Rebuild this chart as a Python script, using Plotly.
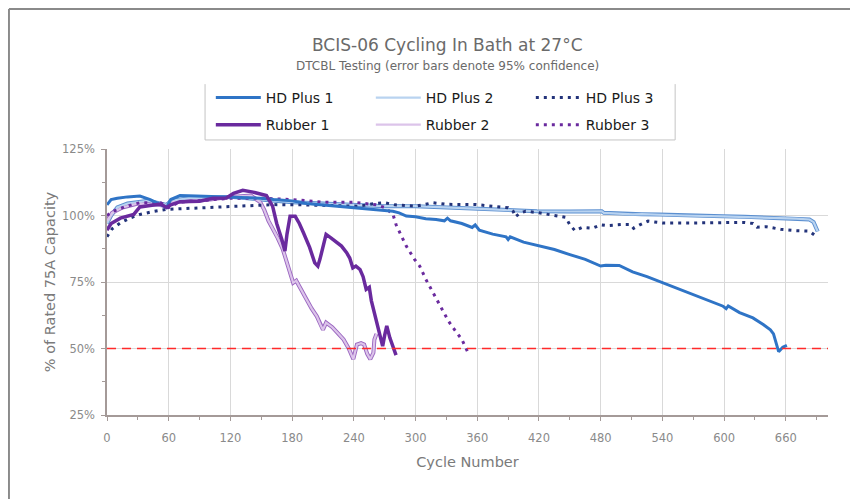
import plotly.graph_objects as go

# ---------------- data ----------------
hd1_cycles = [0, 4, 10, 20, 32, 42, 50, 58, 62, 71, 87, 110, 129, 150, 162, 180, 194, 210, 226, 240,
              259, 270, 278, 284, 291, 300, 310, 320, 328, 331, 334, 345, 355, 358, 362, 375, 388, 390,
              392, 405, 420, 435, 450, 465, 480, 485, 498, 505, 511, 525, 540, 555, 570, 585, 599, 602,
              604, 615, 628, 638, 645, 648, 651, 653, 657, 661]
hd1_values = [104, 106, 106.5, 107, 107.3, 106, 104.5, 103, 106, 107.5, 107.3, 107, 106.6, 106.5, 106,
              105.5, 104.5, 104, 103.5, 103, 102.3, 102, 101.6, 101, 99.8, 99.5, 98.8, 98.5, 98, 99, 98,
              97, 95.5, 96.5, 94.5, 93, 92, 91, 92, 90, 88.5, 87.2, 85.3, 83.5, 81, 81.3, 81.2, 80, 78.8,
              77, 74.8, 72.5, 70.3, 68, 65.9, 65, 66, 63.5, 61.5, 59, 57, 55.5, 52, 48.8, 50.5, 51.2]

hd2_cycles = [0, 4, 10, 20, 40, 58, 62, 80, 120, 150, 180, 210, 240, 270, 300, 330, 360, 390, 418, 450,
              481, 483, 511, 520, 537, 560, 599, 620, 657, 670, 683, 687, 691]
hd2_values = [97, 100, 103, 104.5, 105.5, 104, 105.5, 106.5, 107, 106, 105, 104.5, 104, 103.5, 103.5,
              103, 102.5, 102, 101.6, 101.5, 101.6, 101, 100.4, 100.5, 100.4, 100, 99.7, 99.5, 99.1,
              98.8, 98.5, 97.5, 94]

hd3_cycles = [0, 5, 13, 22, 32, 45, 58, 70, 87, 120, 162, 190, 226, 245, 260, 270, 280, 300, 317, 330,
              359, 375, 390, 395, 397, 402, 407, 420, 435, 446, 450, 455, 462, 472, 480, 486, 500, 509,
              512, 518, 526, 540, 570, 600, 620, 628, 632, 641, 655, 670, 683, 689]
hd3_values = [92, 95, 97.2, 99, 100.4, 101.5, 102.3, 102.5, 102.9, 103.5, 104.1, 104, 103.5, 103.5,
              104.5, 104.8, 104, 103.5, 104.8, 104.2, 104.1, 103.5, 102.9, 101.5, 99.5, 101, 101.6, 101,
              100, 99.3, 96.5, 94.3, 95.5, 95.2, 96.5, 96.2, 96.6, 96.6, 95.2, 96.5, 97.9, 97.2, 97.2,
              97.2, 97.4, 97, 95.6, 95.8, 94.8, 94.3, 94.1, 92.3]

r1_cycles = [0, 4, 13, 26, 32, 45, 52, 58, 62, 71, 90, 103, 116, 123, 132, 142, 150, 155, 161, 165, 170,
             173, 175, 178, 183, 187, 191, 197, 202, 205, 207, 213, 218, 222, 228, 233, 236, 239, 242,
             246, 249, 252, 255, 257, 262, 265, 268, 270, 272, 275, 278, 281]
r1_values = [94.5, 97, 99, 100.4, 103.2, 104, 104.3, 103, 104, 105.2, 105.4, 106.5, 106.6, 108.3, 109.5,
             108.8, 108, 107.5, 103.5, 97, 91, 86.6, 93, 99.7, 99.7, 97, 93.5, 88, 82.2, 81, 83.5, 92.9,
             91.5, 90.3, 88.5, 86, 84, 80.3, 81, 79.7, 77, 72.2, 73, 68, 59.7, 56, 50.9, 55, 58.5, 54,
             50.5, 47.5]

r2_cycles = [0, 5, 15, 30, 50, 58, 62, 80, 100, 120, 140, 149, 153, 157, 162, 166, 171, 176, 181, 184,
             186, 190, 194, 199, 204, 208, 210, 213, 216, 219, 225, 230, 235, 239.5, 243, 247, 250, 253,
             256, 259, 260, 262]
r2_values = [98, 101, 103, 104.5, 104, 103.5, 105, 105.5, 106, 107, 107.5, 105, 102, 98, 94.7, 91.5,
             87.2, 81, 74.7, 75.5, 74, 71, 68.4, 65, 62.1, 58.5, 57.1, 59.7, 58.8, 58, 55.5, 53.4, 50,
             46, 51.5, 52, 51.5, 48, 46, 48.4, 53.4, 55.5]

r3_cycles = [0, 6, 19, 32, 52, 60, 70, 90, 120, 150, 180, 210, 240, 262, 270, 278, 281, 286, 291, 299,
             304, 310, 317, 323, 329, 332, 338, 345, 351]
r3_values = [100, 101.6, 103.5, 104.8, 104.8, 103, 105, 105.5, 106.5, 106.5, 106, 105, 105, 104, 103,
             100.5, 96.6, 92.5, 88.5, 83.5, 81, 76, 71, 66.5, 62, 60.3, 57, 53.4, 48.4]

x_ticks = [0, 60, 120, 180, 240, 300, 360, 420, 480, 540, 600, 660]
y_ticks = [25, 50, 75, 100, 125]
y_tick_text = ["25%", "50%", "75%", "100%", "125%"]
limit_value = 50

# ---------------- figure ----------------
fig = go.Figure()

# outlines for the "double" lines (drawn under the light fill lines)
fig.add_trace(go.Scatter(x=hd2_cycles, y=hd2_values, mode="lines", showlegend=False, hoverinfo="skip",
                         line=dict(color="#5b8fd0", width=4)))
fig.add_trace(go.Scatter(x=r2_cycles, y=r2_values, mode="lines", showlegend=False, hoverinfo="skip",
                         line=dict(color="#9a66c0", width=4)))

fig.add_trace(go.Scatter(x=hd2_cycles, y=hd2_values, mode="lines", name="HD Plus 2", legend="legend",
                         legendrank=2, line=dict(color="#b9d3f0", width=2.2)))
fig.add_trace(go.Scatter(x=r2_cycles, y=r2_values, mode="lines", name="Rubber 2", legend="legend2",
                         legendrank=2, line=dict(color="#dcc4ea", width=2.2)))
fig.add_trace(go.Scatter(x=hd3_cycles, y=hd3_values, mode="lines", name="HD Plus 3", legend="legend",
                         legendrank=3, line=dict(color="#23337a", width=3, dash="3px,5px")))
fig.add_trace(go.Scatter(x=r3_cycles, y=r3_values, mode="lines", name="Rubber 3", legend="legend2",
                         legendrank=3, line=dict(color="#6a2a9e", width=3, dash="3px,5px")))
fig.add_trace(go.Scatter(x=hd1_cycles, y=hd1_values, mode="lines", name="HD Plus 1", legend="legend",
                         legendrank=1, line=dict(color="#2f74c6", width=3)))
fig.add_trace(go.Scatter(x=r1_cycles, y=r1_values, mode="lines", name="Rubber 1", legend="legend2",
                         legendrank=1, line=dict(color="#6a2a9e", width=3.5)))

fig.add_hline(y=limit_value, line=dict(color="#ff2a2a", width=1.6, dash="9px,6px"))

axis_col = "#a49a98"
grid_col = "#d9d9d9"
tick_font = dict(family="DejaVu Sans", size=11.5, color="#8a8a8a")
title_font = dict(family="DejaVu Sans", size=14.5, color="#7a7a7a")

fig.update_xaxes(range=[0, 701], tickvals=x_ticks, showgrid=True, gridcolor=grid_col, gridwidth=1,
                 showline=True, linecolor=axis_col, linewidth=1.5, ticks="outside", ticklen=4,
                 tickcolor=axis_col, tickfont=tick_font, zeroline=False, ticklabelstandoff=7,
                 minor=dict(dtick=30, tick0=0, ticks="outside", ticklen=3, tickcolor=axis_col, showgrid=False),
                 title=dict(text="Cycle Number", font=title_font, standoff=13))
fig.update_yaxes(range=[25, 125], tickvals=y_ticks, ticktext=y_tick_text, showgrid=True, gridcolor=grid_col,
                 gridwidth=1, showline=True, linecolor=axis_col, linewidth=1.5, ticks="outside", ticklen=4,
                 tickcolor=axis_col, tickfont=tick_font, zeroline=False, ticklabelstandoff=4,
                 minor=dict(dtick=12.5, tick0=25, ticks="outside", ticklen=3, tickcolor=axis_col, showgrid=False),
                 title=dict(text="% of Rated 75A Capacity", font=title_font, standoff=3))

legend_common = dict(orientation="h", xanchor="left", yanchor="middle", bgcolor="rgba(0,0,0,0)",
                     borderwidth=0, itemwidth=45, entrywidth=100, tracegroupgap=0,
                     font=dict(family="DejaVu Sans", size=14, color="#1a1a1a"))

# legend box outline (paper coordinates)
box_x0, box_x1, box_y0, box_y1 = 0.136, 0.788, 1.034, 1.244
box_line = dict(color="#c4c4c4", width=1)
frame_line = dict(color="#8a8a8a", width=2)

# page has an 8px body margin: figure is sized/placed to compensate
fig.update_layout(
    width=850, height=491,
    margin=dict(l=99, r=30, t=141, b=84),
    paper_bgcolor="white", plot_bgcolor="white",
    showlegend=True,
    legend=dict(x=0.144, y=1.192, traceorder="normal", **legend_common),
    legend2=dict(x=0.144, y=1.090, traceorder="normal", **legend_common),
    annotations=[
        dict(text="BCIS-06 Cycling In Bath at 27°C", xref="paper", yref="paper", x=0.4716, y=1.391,
             showarrow=False, font=dict(family="DejaVu Sans", size=17, color="#6a6a6a"),
             xanchor="center", yanchor="middle"),
        dict(text="DTCBL Testing (error bars denote 95% confidence)", xref="paper", yref="paper",
             x=0.4716, y=1.312, showarrow=False,
             font=dict(family="DejaVu Sans", size=12, color="#6a6a6a"),
             xanchor="center", yanchor="middle"),
    ],
    shapes=[
        dict(type="line", xref="paper", yref="paper", x0=box_x0, x1=box_x1, y0=box_y1, y1=box_y1, line=box_line),
        dict(type="line", xref="paper", yref="paper", x0=box_x0, x1=box_x1, y0=box_y0, y1=box_y0, line=box_line),
        dict(type="line", xref="paper", yref="paper", x0=box_x0, x1=box_x0, y0=box_y0, y1=box_y1, line=box_line),
        dict(type="line", xref="paper", yref="paper", x0=box_x1, x1=box_x1, y0=box_y0, y1=box_y1, line=box_line),
        dict(type="line", xref="paper", yref="paper", x0=-0.136, x1=1.05, y0=1.526, y1=1.526, line=frame_line),
        dict(type="line", xref="paper", yref="paper", x0=-0.136, x1=-0.136, y0=1.526, y1=-0.35, line=frame_line),
    ],
)

fig.write_html("out.html")
